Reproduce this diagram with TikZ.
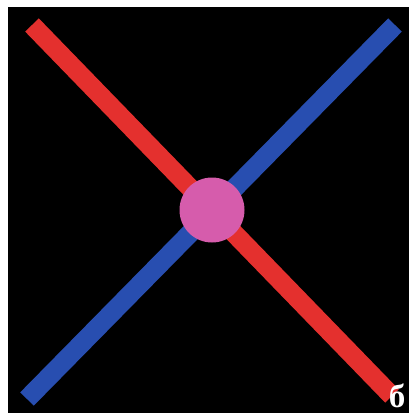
\documentclass[tikz,border=0pt]{standalone}
\usepackage{fontspec}
\newfontfamily\labelfont{Liberation Serif}
\definecolor{barred}{RGB}{228,48,46}
\definecolor{barblue}{RGB}{40,78,176}
\definecolor{dotpink}{RGB}{214,92,172}
\tikzset{
  bar/.style={line width=19pt, line cap=butt},
  dot/.style={circle, fill=dotpink, inner sep=0pt, minimum size=65pt},
  lbl/.style={text=white, font=\labelfont\bfseries\fontsize{33}{33}\selectfont, inner sep=0pt, anchor=base}
}
\begin{document}
\begin{tikzpicture}[x=1pt,y=-1pt]
\useasboundingbox (0,0) rectangle (409,413);
\fill[white] (0,0) rectangle (409,413);
\fill[black] (8,7) rectangle (409,413);
\coordinate (r1) at (32,25);
\coordinate (r2) at (392,396);
\coordinate (b1) at (395,25);
\coordinate (b2) at (27,399);
\draw[bar, barred] (r1) -- (r2);
\draw[bar, barblue] (b1) -- (b2);
\node[dot] (c) at (212,210) {};
\node[lbl] (t) at (397,407) {б};
\end{tikzpicture}
\end{document}
